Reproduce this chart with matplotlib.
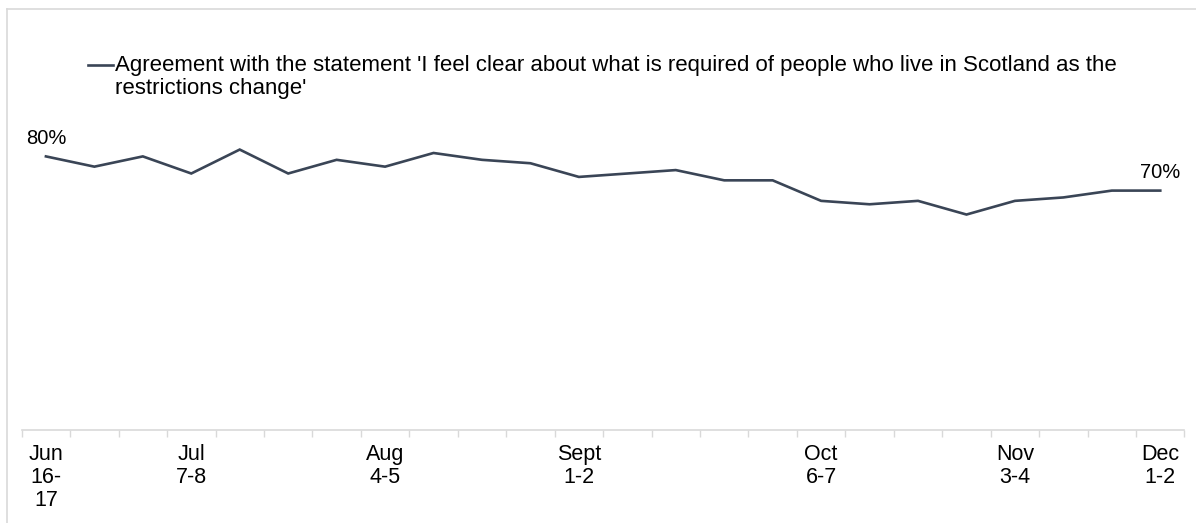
import matplotlib
matplotlib.use('Agg')
import matplotlib.pyplot as plt
from matplotlib.lines import Line2D

# Survey waves (fortnightly, Jun to Dec)
waves = ['Jun\n16-\n17', '', '', 'Jul\n7-8', '', '', '', 'Aug\n4-5', '', '', '', 'Sept\n1-2',
         '', '', '', '', 'Oct\n6-7', '', '', '', 'Nov\n3-4', '', '', 'Dec\n1-2']

# % agreeing with the statement
agree = [80, 77, 80, 75, 82, 75, 79, 77, 81, 79, 78, 74,
         75, 76, 73, 73, 67, 66, 67, 63, 67, 68, 70, 70]

SERIES_LABEL = ("Agreement with the statement 'I feel clear about what is required of people who live in Scotland as the\n"
                "restrictions change'")

LINE_COLOR = '#3A4556'
GRID_GREY = '#D9D9D9'

plt.rcParams['font.family'] = ['Liberation Sans', 'DejaVu Sans']

W, H = 1196, 523
fig = plt.figure(figsize=(W / 100, H / 100), dpi=100)

# axes placed in pixel terms
left, right, bottom, top = 21.7, 1184.5, 430, 88
ax = fig.add_axes([left / W, (H - bottom) / H, (right - left) / W, (bottom - top) / H])

x = list(range(len(agree)))
ax.plot(x, agree, color=LINE_COLOR, linewidth=1.9, solid_joinstyle='miter')

ax.set_xlim(-0.5, len(agree) - 0.5)
ax.set_ylim(0, 100)
ax.set_yticks([])

# labelled waves only, tick marks sit on the category boundaries
major = [i for i, w in enumerate(waves) if w]
ax.set_xticks(major)
ax.set_xticklabels([waves[i] for i in major], fontsize=15.5, linespacing=1.13)
ax.set_xticks([i - 0.5 for i in range(len(agree) + 1)], minor=True)
ax.tick_params(axis='x', which='major', length=0, pad=10)
ax.tick_params(axis='x', which='minor', length=5, color=GRID_GREY, width=1)

for s in ['left', 'right', 'top']:
    ax.spines[s].set_visible(False)
ax.spines['bottom'].set_color(GRID_GREY)
ax.spines['bottom'].set_linewidth(1.2)

# data labels on first and last points
for i in [0, len(agree) - 1]:
    ax.annotate(f'{agree[i]}%', (x[i], agree[i]), xytext=(0, 6), textcoords='offset points',
                ha='center', va='bottom', fontsize=14.5)

# legend drawn by hand so the key sits on the first line
fig.add_artist(Line2D([88 / W, 113 / W], [(H - 65) / H] * 2, color=LINE_COLOR, linewidth=1.9))
fig.text(115 / W, (H - 77) / H, SERIES_LABEL, fontsize=16, va='center', ha='left',
         linespacing=1.17, transform=fig.transFigure)

# chart frame (left and top edges visible)
fig.add_artist(Line2D([7 / W, 7 / W], [0, (H - 9) / H], color=GRID_GREY, linewidth=1.2))
fig.add_artist(Line2D([7 / W, 1], [(H - 9) / H] * 2, color=GRID_GREY, linewidth=1.2))

fig.savefig('out.png', dpi=100)
